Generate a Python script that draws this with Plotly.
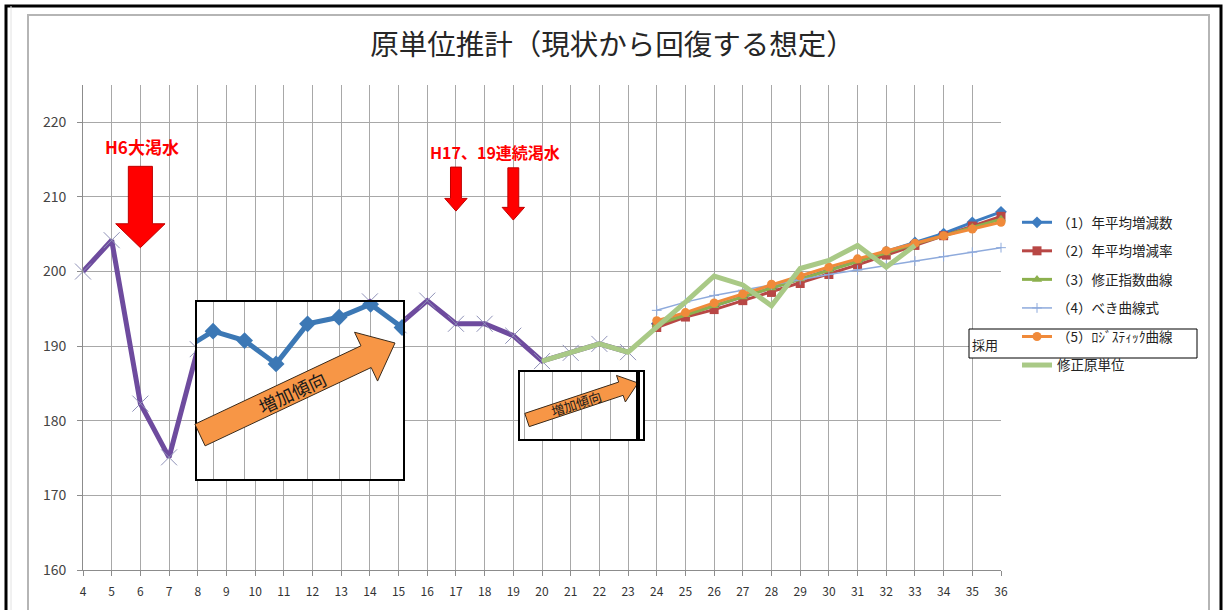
import math
import plotly.graph_objects as go

# ---- data -------------------------------------------------------------
# recorded unit values, H4-H23
years_actual = list(range(4, 24))
actual = [200.0, 204.2, 182.3, 175.1, 189.6, 192.3, 191.0, 187.8, 193.3, 194.2,
          196.0, 192.8, 196.1, 193.0, 193.0, 191.4, 188.0, 189.1, 190.3, 189.2]

# enlarged view of the H8-H15 rise
years_zoom = list(range(8, 16))
zoom_vals = [189.6, 192.3, 191.0, 187.8, 193.3, 194.2, 196.0, 192.8]

# projections, H24-H36
years_fc = list(range(24, 37))
fc1 = [193.0, 194.2, 195.4, 196.6, 197.8, 199.0, 200.2, 201.4, 202.7, 203.9, 205.1, 206.6, 208.0]
fc2 = [192.5, 193.9, 194.9, 196.1, 197.2, 198.4, 199.6, 200.9, 202.2, 203.5, 204.8, 206.1, 207.4]
fc3 = [192.9, 194.2, 195.4, 196.6, 197.8, 199.0, 200.2, 201.4, 202.5, 203.7, 204.8, 205.9, 207.0]
fc4 = [194.8, 195.9, 196.8, 197.5, 198.2, 198.9, 199.6, 200.2, 200.8, 201.4, 202.0, 202.6, 203.2]
fc5 = [193.4, 194.5, 195.8, 197.0, 198.3, 199.4, 200.6, 201.7, 202.8, 203.8, 204.8, 205.7, 206.6]

# adjusted unit values, H20-H33
years_adj = list(range(20, 34))
adj = [188.0, 189.1, 190.3, 189.2, 192.5, 195.9, 199.4, 198.2, 195.4, 200.4,
       201.5, 203.5, 200.6, 203.5]

series_names = ["（1）年平均増減数", "（2）年平均増減率", "（3）修正指数曲線",
                "（4）べき曲線式", "（5）ﾛｼﾞｽﾃｨｯｸ曲線", "修正原単位"]
x_ticks = list(range(4, 37))
y_ticks = [160, 170, 180, 190, 200, 210, 220]

# ---- layout geometry (pixels) ----------------------------------------
W, H = 1225, 610
PL, PR, PT, PB = 83, 1001, 85, 570
FONT = "Noto Sans CJK JP"


def paper(px, py):
    return (px - PL) / (PR - PL), (PB - py) / (PB - PT)


def poly_paper(points):
    out = []
    for i, (px, py) in enumerate(points):
        x, y = paper(px, py)
        out.append(("M" if i == 0 else "L") + f"{x:.5f},{y:.5f}")
    return " ".join(out) + " Z"


def arrow_points(x0, y0, x1, y1, shaft, head, head_len):
    dx, dy = x1 - x0, y1 - y0
    L = math.hypot(dx, dy)
    ux, uy = dx / L, dy / L
    nx, ny = -uy, ux
    b = L - head_len
    local = [(0, -shaft), (b, -shaft), (b, -head), (L, 0), (b, head), (b, shaft), (0, shaft)]
    return [(x0 + a * ux + p * nx, y0 + a * uy + p * ny) for a, p in local]


def down_arrow(xc, top, neck, tip, shaft, head):
    pts = [(xc - shaft, top), (xc + shaft, top), (xc + shaft, neck), (xc + head, neck),
           (xc, tip), (xc - head, neck), (xc - shaft, neck)]
    return "M" + " L".join(f"{x},{y}" for x, y in pts) + " Z"


fig = go.Figure()

# recorded values
fig.add_trace(go.Scatter(
    x=years_actual, y=actual, mode="lines+markers", showlegend=False,
    line=dict(color="#6e4b9e", width=5),
    marker=dict(symbol="x-thin", size=16, line=dict(color="#8f92b8", width=1)),
    cliponaxis=False))

styles = [
    dict(color="#3d7cc0", width=3, symbol="diamond", size=9),
    dict(color="#b84745", width=3, symbol="square", size=9),
    dict(color="#8cb04e", width=3, symbol="triangle-up", size=9),
    dict(color="#8eaadc", width=1.5, symbol="cross-thin", size=7),
    dict(color="#f08a3a", width=3, symbol="circle", size=9),
]
for name, vals, st in zip(series_names[:5], [fc1, fc2, fc3, fc4, fc5], styles):
    mk = dict(symbol=st["symbol"], size=st["size"], color=st["color"])
    if st["symbol"] == "cross-thin":
        mk["line"] = dict(color=st["color"], width=1)
    fig.add_trace(go.Scatter(
        x=years_fc, y=vals, name=name, legendgroup=name, mode="lines+markers",
        line=dict(color=st["color"], width=st["width"]), marker=mk, cliponaxis=False))

fig.add_trace(go.Scatter(
    x=years_adj, y=adj, name=series_names[5], legendgroup=series_names[5], mode="lines",
    line=dict(color="#a9c986", width=5), cliponaxis=False))

# inset: enlarged H8-H15
fig.add_trace(go.Scatter(
    x=years_zoom, y=zoom_vals, xaxis="x2", yaxis="y2", mode="lines+markers", showlegend=False,
    line=dict(color="#3c78b5", width=5),
    marker=dict(symbol="diamond", size=13, color="#3c78b5"), cliponaxis=True))

# second small inset (frame only)
fig.add_trace(go.Scatter(x=[], y=[], xaxis="x3", yaxis="y3", showlegend=False))

grid = "#a8a8a8"
axis_common = dict(showgrid=True, gridcolor=grid, gridwidth=1, zeroline=False,
                   showline=True, linecolor="#8c8c8c", ticks="outside", ticklen=5,
                   tickcolor="#8c8c8c")

x1d = paper(197, 0)[0], paper(403, 0)[0]
y1d = paper(0, 479)[1], paper(0, 302)[1]
x3d = paper(520, 0)[0], paper(643, 0)[0]
y3d = paper(0, 439)[1], paper(0, 372)[1]

fig.update_layout(
    width=W, height=H,
    margin=dict(l=PL, r=W - PR, t=PT, b=H - PB),
    paper_bgcolor="white", plot_bgcolor="white",
    font=dict(family=FONT, color="#333333"),
    title=dict(text="原単位推計（現状から回復する想定）", x=0.5, xref="container",
               y=1 - 45 / H, yref="container", xanchor="center", yanchor="middle",
               font=dict(size=28.5, color="#262626", family=FONT)),
    xaxis=dict(range=[4, 36], tickvals=x_ticks, tickfont=dict(size=12, color="#333"),
               ticklabelstandoff=6, **axis_common),
    yaxis=dict(range=[160, 225], tickvals=y_ticks, tickfont=dict(size=14, color="#444"),
               ticklabelstandoff=8, **axis_common),
    xaxis2=dict(domain=list(x1d), anchor="y2", range=[8.49, 15.03], dtick=1,
                showgrid=True, gridcolor=grid, zeroline=False, showticklabels=False,
                showline=True, mirror=True, linecolor="black", linewidth=2, ticks=""),
    yaxis2=dict(domain=list(y1d), anchor="x2", range=[172.0, 196.3], tickvals=[190],
                showgrid=True, gridcolor=grid, zeroline=False, showticklabels=False,
                showline=True, mirror=True, linecolor="black", linewidth=2, ticks=""),
    xaxis3=dict(domain=list(x3d), anchor="y3", range=[-1.15, 3.15], dtick=1,
                showgrid=True, gridcolor=grid, zeroline=False, showticklabels=False,
                showline=True, mirror=True, linecolor="black", linewidth=2, ticks=""),
    yaxis3=dict(domain=list(y3d), anchor="x3", range=[0, 1], showgrid=False,
                zeroline=False, showticklabels=False,
                showline=True, mirror=True, linecolor="black", linewidth=2, ticks=""),
    legend=dict(x=paper(1017, 0)[0], y=paper(0, 207)[1], xanchor="left", yanchor="top",
                bgcolor="rgba(0,0,0,0)", font=dict(size=13.5, color="#222", family=FONT),
                tracegroupgap=8, traceorder="grouped"),
    showlegend=True,
)

shapes = []
# outer frames
fx0, fy1 = paper(6, 6)
fx1, fy0 = paper(1221, 640)
shapes.append(dict(type="rect", xref="paper", yref="paper", x0=fx0, x1=fx1, y0=fy0, y1=fy1,
                   line=dict(color="black", width=3), layer="below"))
gx0, gy1 = paper(28, 15)
gx1, gy0 = paper(1209, 640)
shapes.append(dict(type="rect", xref="paper", yref="paper", x0=gx0, x1=gx1, y0=gy0, y1=gy1,
                   line=dict(color="#b5b5b5", width=2), layer="below"))
lx, _ = paper(11, 0)
shapes.append(dict(type="line", xref="paper", yref="paper", x0=lx, x1=lx, y0=fy0, y1=fy1,
                   line=dict(color="#e2e2e2", width=1), layer="below"))

# drought arrows
red_fill, red_line = "#ff0000", "#c00000"
shapes.append(dict(type="path", xref="x", yref="y", layer="above",
                   path=down_arrow(6, 214.1, 206.4, 203.2, 0.42, 0.86),
                   fillcolor=red_fill, line=dict(color=red_line, width=1)))
shapes.append(dict(type="path", xref="x", yref="y", layer="above",
                   path=down_arrow(17, 214.0, 209.8, 208.1, 0.19, 0.39),
                   fillcolor=red_fill, line=dict(color=red_line, width=1)))
shapes.append(dict(type="path", xref="x", yref="y", layer="above",
                   path=down_arrow(19, 213.9, 208.6, 206.9, 0.19, 0.39),
                   fillcolor=red_fill, line=dict(color=red_line, width=1)))

# trend arrows inside the insets
orange, dark = "#f79646", "#3a2a1a"
shapes.append(dict(type="path", xref="paper", yref="paper", layer="above",
                   path=poly_paper(arrow_points(200, 435, 395, 343, 12, 27, 32)),
                   fillcolor=orange, line=dict(color=dark, width=1)))
shapes.append(dict(type="path", xref="paper", yref="paper", layer="above",
                   path=poly_paper(arrow_points(527, 420, 638, 383, 7, 14, 18)),
                   fillcolor=orange, line=dict(color=dark, width=1)))
bx, by0 = paper(638, 439)
_, by1 = paper(638, 372)
shapes.append(dict(type="line", xref="paper", yref="paper", x0=bx, x1=bx, y0=by0, y1=by1,
                   line=dict(color="black", width=4), layer="above"))

# adopted-method frame
ax0, ay1 = paper(969, 329)
ax1, ay0 = paper(1197, 358)
shapes.append(dict(type="rect", xref="paper", yref="paper", x0=ax0, x1=ax1, y0=ay0, y1=ay1,
                   fillcolor="white", line=dict(color="black", width=1), layer="above"))
fig.update_layout(shapes=shapes)

annotations = []
annotations.append(dict(x=6.07, y=216.7, xref="x", yref="y", text="<b>H6大渇水</b>",
                        showarrow=False, font=dict(size=17, color="#ff0000", family=FONT)))
annotations.append(dict(x=18.37, y=216.0, xref="x", yref="y", text="<b>H17、19連続渇水</b>",
                        showarrow=False, font=dict(size=16, color="#ff0000", family=FONT)))
tx, ty = paper(292, 392)
annotations.append(dict(x=tx, y=ty, xref="paper", yref="paper", text="増加傾向",
                        textangle=-25, showarrow=False, xanchor="center", yanchor="middle",
                        font=dict(size=18, color="#1a1a1a", family=FONT)))
tx, ty = paper(576, 403)
annotations.append(dict(x=tx, y=ty, xref="paper", yref="paper", text="増加傾向",
                        textangle=-18, showarrow=False, xanchor="center", yanchor="middle",
                        font=dict(size=13, color="#1a1a1a", family=FONT)))
tx, ty = paper(985, 344)
annotations.append(dict(x=tx, y=ty, xref="paper", yref="paper", text="採用",
                        showarrow=False, xanchor="center", yanchor="middle",
                        font=dict(size=13, color="#222", family=FONT)))
fig.update_layout(annotations=annotations)

fig.write_html("out.html")
